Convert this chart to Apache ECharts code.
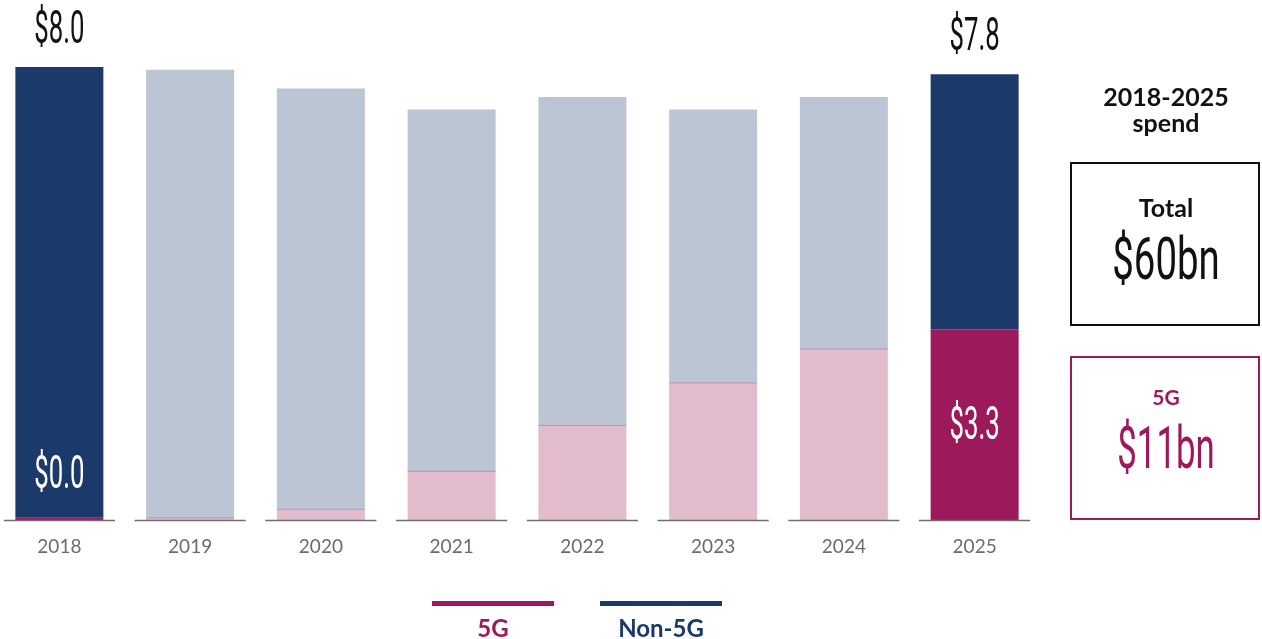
<!DOCTYPE html>
<html>
<head>
<meta charset="utf-8">
<script src="https://cdn.jsdelivr.net/npm/echarts@6/dist/echarts.min.js"></script>
<style>
  html, body { margin: 0; padding: 0; background: #fff; }
  #chart { width: 1262px; height: 639px; }
</style>
</head>
<body>
<div id="chart"></div>
<script>
// spend per year, $bn
const years = ['2018', '2019', '2020', '2021', '2022', '2023', '2024', '2025']
const totals = [8.0, 7.95, 7.62, 7.25, 7.47, 7.25, 7.47, 7.87]
const fiveG = [0.04, 0.04, 0.19, 0.86, 1.67, 2.42, 3.02, 3.37]
const highlight = [true, false, false, false, false, false, false, true]

const NAVY = '#1b3a6a'
const NAVY_LIGHT = '#bcc5d3'
const MAGENTA = '#9c1a5b'
const PINK = '#e2bccd'
const NUM_FONT = "Roboto, 'Liberation Sans', sans-serif"
const TXT_FONT = "Lato, 'Noto Sans', sans-serif"

const nonFiveG = totals.map((t, i) => +(t - fiveG[i]).toFixed(2))

// values are shown truncated to one decimal, as in the original
function money(v) {
  return '$' + (Math.floor(v * 10 + 1e-6) / 10).toFixed(1)
}

let chart = echarts.init(document.getElementById('chart'))

let option = {
  animation: false,
  grid: {left: -6, width: 1046, top: 67, bottom: 119, outerBoundsMode: 'none', containLabel: false},
  xAxis: {
    type: 'category',
    data: years,
    axisLine: {show: false},
    axisTick: {show: false},
    axisLabel: {color: '#6b6b6b', fontSize: 19, fontFamily: TXT_FONT, margin: 17}
  },
  yAxis: {type: 'value', min: 0, max: 8, show: false, splitLine: {show: false}},
  series: [
    {
      name: '5G',
      type: 'bar',
      stack: 'spend',
      barWidth: 88,
      data: fiveG.map((v, i) => ({value: v, itemStyle: {color: highlight[i] ? MAGENTA : PINK}}))
    },
    {
      name: 'Non-5G',
      type: 'bar',
      stack: 'spend',
      barWidth: 88,
      data: nonFiveG.map((v, i) => ({value: v, itemStyle: {color: highlight[i] ? NAVY : NAVY_LIGHT}}))
    },
    {
      // baselines, 5G/non-5G divider and value labels
      type: 'custom',
      silent: true,
      z: 5,
      data: years.map((y, i) => [i, totals[i], fiveG[i]]),
      renderItem: (params, api) => {
        let i = api.value(0)
        let base = api.coord([i, 0])
        let top = api.coord([i, api.value(1)])
        let split = api.coord([i, api.value(2)])
        let band = api.size([1, 0])[0]
        let cx = base[0]
        let kids = [{
          type: 'line',
          shape: {x1: cx - band * 0.425, y1: base[1] + 0.5, x2: cx + band * 0.425, y2: base[1] + 0.5},
          style: {stroke: '#6f6f6f', lineWidth: 1.5}
        }]
        if (!highlight[i]) {
          kids.push({
            type: 'line',
            shape: {x1: cx - 44, y1: split[1], x2: cx + 44, y2: split[1]},
            style: {stroke: '#a39fb2', lineWidth: 1}
          })
        } else {
          kids.push({
            type: 'text', x: cx, y: top[1] - 36, scaleX: 0.56,
            style: {text: money(api.value(1)), font: '46px ' + NUM_FONT, fill: '#111',
              textAlign: 'center', textVerticalAlign: 'middle'}
          })
          let segH = base[1] - split[1]
          let ly = segH < 80 ? base[1] - 44 : (base[1] + split[1]) / 2 + 3
          kids.push({
            type: 'text', x: cx, y: ly, scaleX: 0.56,
            style: {text: money(api.value(2)), font: '46px ' + NUM_FONT, fill: '#fff',
              textAlign: 'center', textVerticalAlign: 'middle'}
          })
        }
        return {type: 'group', children: kids}
      }
    }
  ],
  graphic: [
    {type: 'text', x: 1166, y: 98, style: {text: '2018-2025', font: 'bold 25px ' + TXT_FONT, fill: '#111', textAlign: 'center', textVerticalAlign: 'middle'}},
    {type: 'text', x: 1166, y: 124, style: {text: 'spend', font: 'bold 25px ' + TXT_FONT, fill: '#111', textAlign: 'center', textVerticalAlign: 'middle'}},
    {type: 'rect', shape: {x: 1071, y: 163, width: 188, height: 162}, style: {fill: 'none', stroke: '#111', lineWidth: 2}},
    {type: 'text', x: 1166, y: 209, style: {text: 'Total', font: 'bold 25px ' + TXT_FONT, fill: '#111', textAlign: 'center', textVerticalAlign: 'middle'}},
    {type: 'text', x: 1166, y: 264, scaleX: 0.64, style: {text: '$60bn', font: '60px ' + NUM_FONT, fill: '#111', textAlign: 'center', textVerticalAlign: 'middle'}},
    {type: 'rect', shape: {x: 1071, y: 357, width: 188, height: 162}, style: {fill: 'none', stroke: MAGENTA, lineWidth: 2}},
    {type: 'text', x: 1166, y: 398, style: {text: '5G', font: 'bold 21px ' + TXT_FONT, fill: MAGENTA, textAlign: 'center', textVerticalAlign: 'middle'}},
    {type: 'text', x: 1166, y: 453, scaleX: 0.58, style: {text: '$11bn', font: '60px ' + NUM_FONT, fill: MAGENTA, textAlign: 'center', textVerticalAlign: 'middle'}},
    // legend
    {type: 'rect', shape: {x: 432, y: 601, width: 122, height: 5}, style: {fill: MAGENTA}},
    {type: 'rect', shape: {x: 600, y: 601, width: 122, height: 5}, style: {fill: NAVY}},
    {type: 'text', x: 493, y: 629, style: {text: '5G', font: 'bold 24px ' + TXT_FONT, fill: MAGENTA, textAlign: 'center', textVerticalAlign: 'middle'}},
    {type: 'text', x: 661, y: 629, style: {text: 'Non-5G', font: 'bold 24px ' + TXT_FONT, fill: NAVY, textAlign: 'center', textVerticalAlign: 'middle'}}
  ]
}

chart.setOption(option)
</script>
</body>
</html>
